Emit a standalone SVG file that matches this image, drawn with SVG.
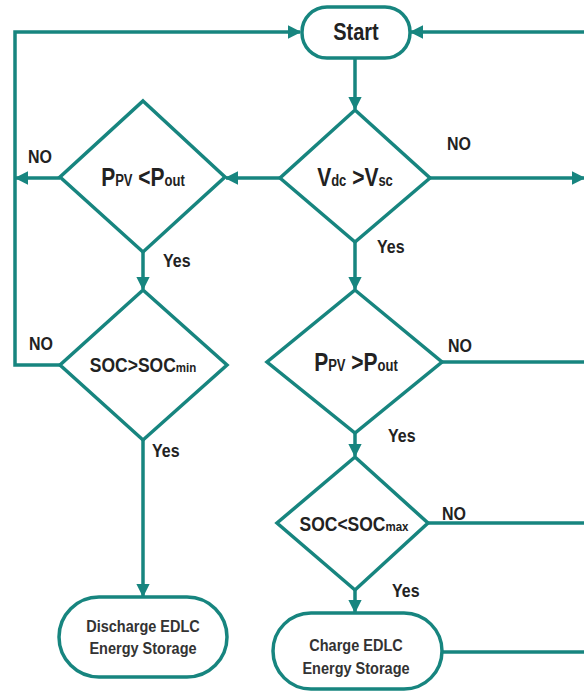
<svg xmlns="http://www.w3.org/2000/svg" width="584" height="693" viewBox="0 0 584 693">
<defs>
<style>
.sh{fill:#fff;stroke:#17857f;stroke-width:3.5}
.ln{fill:none;stroke:#17857f;stroke-width:3.5}
.ar{marker-end:url(#ah)}
text{font-family:"Liberation Sans",Arial,sans-serif;font-weight:bold;fill:#222}
.lb{font-size:16px}
.bx{font-size:14.5px;fill:#333}
.big{font-size:21px}
.sm{font-size:17.5px}
</style>
<marker id="ah" viewBox="0 0 10 10" refX="9" refY="5" markerWidth="4.2" markerHeight="3.8" orient="auto" markerUnits="strokeWidth">
<path d="M0,0 L10,5 L0,10 z" fill="#17857f"/>
</marker>
</defs>
<rect width="584" height="693" fill="#fff"/>
<g id="connectors">
<line class="ln ar" x1="355" y1="59" x2="355" y2="109"/>
<polyline class="ln ar" points="60,365 15,365 15,32 300,32"/>
<line class="ln ar" x1="60" y1="178" x2="16" y2="178"/>
<line class="ln ar" x1="280" y1="178" x2="226" y2="178"/>
<line class="ln ar" x1="430" y1="178" x2="584" y2="178"/>
<line class="ln ar" x1="584" y1="32" x2="411" y2="32"/>
<line class="ln ar" x1="143" y1="252" x2="143" y2="289"/>
<line class="ln ar" x1="143" y1="440" x2="143" y2="596"/>
<line class="ln ar" x1="355" y1="242" x2="355" y2="289"/>
<line class="ln" x1="442" y1="362" x2="584" y2="362"/>
<line class="ln ar" x1="355" y1="433" x2="355" y2="456"/>
<line class="ln" x1="428" y1="523" x2="584" y2="523"/>
<line class="ln ar" x1="355" y1="590" x2="355" y2="612"/>
<line class="ln" x1="442" y1="652" x2="584" y2="652"/>
<text class="lb" transform="translate(28,163) scale(1,1.12)">NO</text>
<text class="lb" transform="translate(447,150) scale(1,1.12)">NO</text>
<text class="lb" transform="translate(163,267) scale(1,1.12)">Yes</text>
<text class="lb" transform="translate(377,253) scale(1,1.12)">Yes</text>
<text class="lb" transform="translate(29,350) scale(1,1.12)">NO</text>
<text class="lb" transform="translate(448,352) scale(1,1.12)">NO</text>
<text class="lb" transform="translate(152,457) scale(1,1.12)">Yes</text>
<text class="lb" transform="translate(388,442) scale(1,1.12)">Yes</text>
<text class="lb" transform="translate(442,520) scale(1,1.12)">NO</text>
<text class="lb" transform="translate(392,597) scale(1,1.12)">Yes</text>
</g>
<g id="start">
<rect class="sh" x="302" y="7" width="108" height="51" rx="25"/>
<text transform="translate(356,40) scale(1,1.15)" text-anchor="middle" font-size="20">Start</text>
</g>
<g id="vdc">
<polygon class="sh" points="355,110 430,178 355,242 280,178"/>
<text class="big" transform="translate(355,186) scale(1,1.2)" text-anchor="middle">V<tspan font-size="13">dc</tspan> &gt;V<tspan font-size="13">sc</tspan></text>
</g>
<g id="ppv-lt">
<polygon class="sh" points="143,101 225,177 143,252 60,177"/>
<text class="big" transform="translate(143,186) scale(1,1.2)" text-anchor="middle">P<tspan font-size="13">PV</tspan> &lt;P<tspan font-size="13">out</tspan></text>
</g>
<g id="soc-min">
<polygon class="sh" points="143,290 227,365 143,440 60,365"/>
<text class="sm" transform="translate(143,372) scale(1,1.15)" text-anchor="middle">SOC&gt;SOC<tspan font-size="11.5">min</tspan></text>
</g>
<g id="ppv-gt">
<polygon class="sh" points="355,290 442,362 355,433 267,362"/>
<text class="big" transform="translate(356,371) scale(1,1.2)" text-anchor="middle">P<tspan font-size="13">PV</tspan> &gt;P<tspan font-size="13">out</tspan></text>
</g>
<g id="soc-max">
<polygon class="sh" points="355,457 428,523 355,590 277,523"/>
<text class="sm" transform="translate(354,531) scale(1,1.15)" text-anchor="middle">SOC&lt;SOC<tspan font-size="11.5">max</tspan></text>
</g>
<g id="discharge">
<rect class="sh" x="59" y="597" width="168" height="80" rx="40"/>
<text class="bx" transform="translate(143,632) scale(1,1.1)" text-anchor="middle">Discharge EDLC</text>
<text class="bx" transform="translate(143,654) scale(1,1.1)" text-anchor="middle">Energy Storage</text>
</g>
<g id="charge">
<rect class="sh" x="273" y="613" width="169" height="76" rx="38"/>
<text class="bx" transform="translate(356,651) scale(1,1.1)" text-anchor="middle">Charge EDLC</text>
<text class="bx" transform="translate(356,674) scale(1,1.1)" text-anchor="middle">Energy Storage</text>
</g>
</svg>
